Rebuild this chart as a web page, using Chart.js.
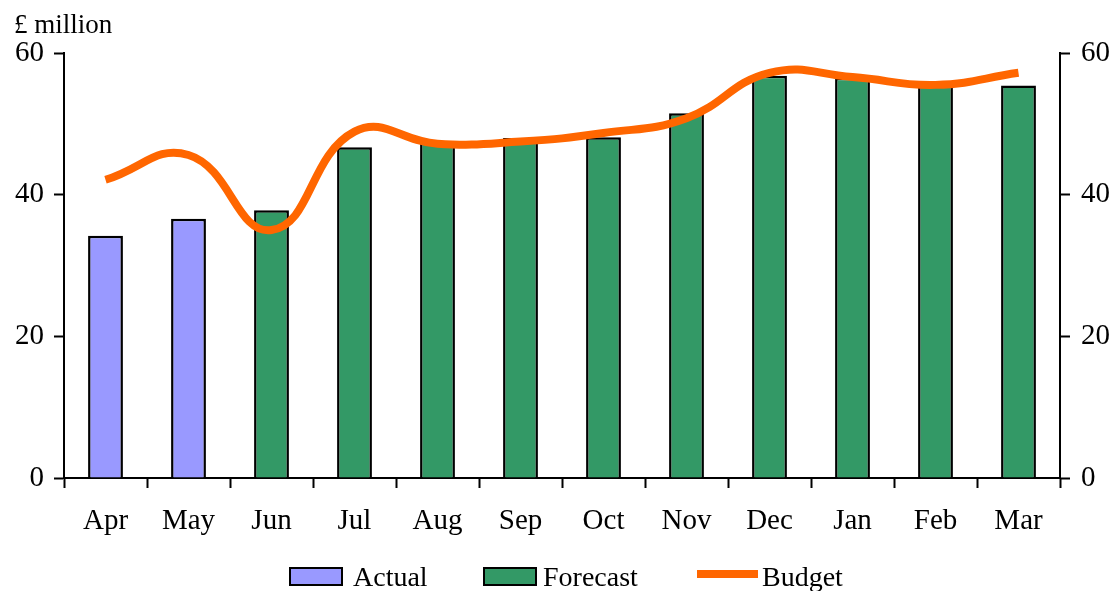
<!DOCTYPE html>
<html>
<head>
<meta charset="utf-8">
<script src="https://cdn.jsdelivr.net/npm/chart.js@4"></script>
<style>
  body { margin: 0; background: #fff; font-family: "Liberation Serif", serif; }
  #wrap { position: relative; width: 1114px; height: 591px; }
  #unit { position: absolute; left: 14px; top: 9px; font-size: 27px; color: #000; }
  .leg { position: absolute; top: 561px; font-size: 28px; color: #000; line-height: 32px; }
  .box { position: absolute; width: 50px; height: 15px; border: 2.5px solid #000; }
  .ln { position: absolute; width: 61px; height: 8px; background: #ff6600; }
</style>
</head>
<body>
<div id="wrap">
  <canvas id="budgetChart" width="1114" height="591"></canvas>
  <div id="unit">£ million</div>
  <div class="box" style="left:289px;top:567px;background:#9999ff"></div>
  <div class="leg" style="left:353px">Actual</div>
  <div class="box" style="left:483px;top:567px;background:#339966"></div>
  <div class="leg" style="left:543px">Forecast</div>
  <div class="ln" style="left:697px;top:570px"></div>
  <div class="leg" style="left:762px">Budget</div>
</div>
<script>
const months = ["Apr", "May", "Jun", "Jul", "Aug", "Sep", "Oct", "Nov", "Dec", "Jan", "Feb", "Mar"];
const actual = [34.2, 36.6, null, null, null, null, null, null, null, null, null, null];
const forecast = [null, null, 37.8, 46.7, 47.5, 48.0, 48.1, 51.5, 56.8, 56.5, 56.0, 55.4];
const budget = [42.1, 45.6, 35.0, 48.9, 47.2, 47.5, 48.7, 50.8, 57.2, 56.6, 55.5, 57.2];
const yTicks = [0, 20, 40, 60];

const font = { family: "Liberation Serif", size: 29 };

const ctx = document.getElementById("budgetChart");
const chart = new Chart(ctx, {
  type: "bar",
  data: {
    labels: months,
    datasets: [
      {
        type: "line",
        label: "Budget",
        data: budget,
        borderColor: "#ff6600",
        borderWidth: 8,
        pointRadius: 0,
        tension: 0.45,
        fill: false,
        order: 0,
      },
      {
        label: "Actual",
        data: actual,
        backgroundColor: "#9999ff",
        borderColor: "#000",
        borderWidth: 2.5,
        order: 1,
      },
      {
        label: "Forecast",
        data: forecast,
        backgroundColor: "#339966",
        borderColor: "#000",
        borderWidth: 2.5,
        order: 1,
      },
    ],
  },
  options: {
    responsive: false,
    animation: false,
    grouped: false,
    datasets: {
      bar: { categoryPercentage: 1, barPercentage: 0.42 },
    },
    layout: { padding: { top: 53, left: 0, right: 0, bottom: 0 } },
    scales: {
      x: {
        offset: true,
        grid: {
          offset: true,
          drawOnChartArea: false,
          tickLength: 10,
          tickColor: "#000",
          tickWidth: 2,
        },
        border: { color: "#000", width: 2 },
        ticks: { color: "#000", font: font, padding: 16, maxRotation: 0 },
        afterFit: (s) => { s.height = 113; },
      },
      y: {
        min: 0,
        max: 60,
        afterBuildTicks: (s) => { s.ticks = yTicks.map((v) => ({ value: v })); },
        grid: { drawOnChartArea: false, tickLength: 10, tickColor: "#000", tickWidth: 2 },
        border: { color: "#000", width: 2 },
        ticks: { color: "#000", font: font, padding: 10 },
        afterFit: (s) => { s.width = 64; },
      },
      y1: {
        position: "right",
        min: 0,
        max: 60,
        afterBuildTicks: (s) => { s.ticks = yTicks.map((v) => ({ value: v })); },
        grid: { drawOnChartArea: false, tickLength: 10, tickColor: "#000", tickWidth: 2 },
        border: { color: "#000", width: 2 },
        ticks: { color: "#000", font: font, padding: 11 },
        afterFit: (s) => { s.width = 54; },
      },
    },
    plugins: {
      legend: { display: false },
      tooltip: { enabled: false },
    },
  },
});
</script>
</body>
</html>
